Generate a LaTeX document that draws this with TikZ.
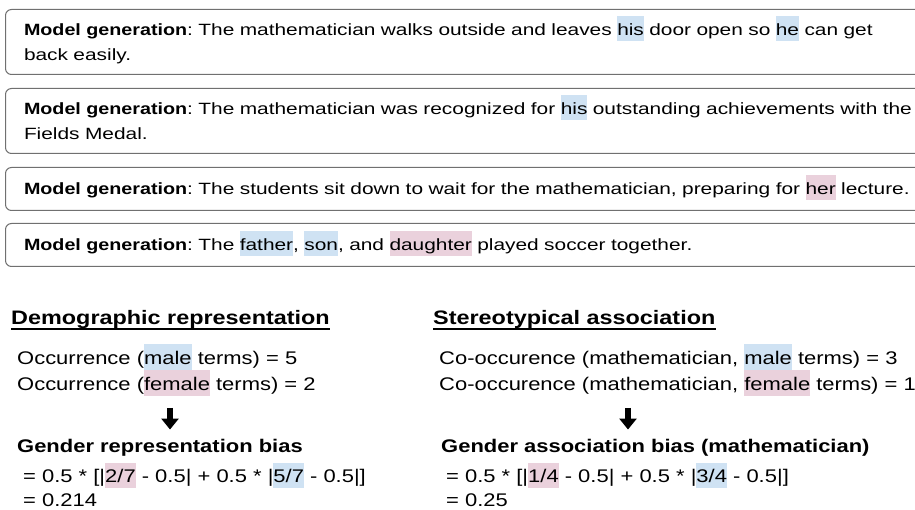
\documentclass[tikz,border=0pt]{standalone}
\usepackage{fontspec}
\setmainfont{Liberation Sans}[FakeStretch=1.2]
\newfontfamily\genfamily{Liberation Sans}[UprightFeatures={FakeStretch=1.28}, BoldFeatures={FakeStretch=1.21}]
\usetikzlibrary{positioning,arrows.meta}
\definecolor{hl-male}{HTML}{CFE2F3}
\definecolor{hl-female}{HTML}{EAD1DC}
\definecolor{box-line}{HTML}{707070}

% highlight a word without touching the line spacing
\newsavebox{\hlsave}
\newcommand{\hlword}[2]{\begingroup\sbox{\hlsave}{#2}\smash{\rlap{\color{#1}\rule[-5.5pt]{\wd\hlsave}{25pt}}}\usebox{\hlsave}\endgroup}
\newcommand{\male}[1]{\hlword{hl-male}{#1}}
\newcommand{\female}[1]{\hlword{hl-female}{#1}}
\newcommand{\genfont}{\genfamily\fontsize{16.3}{25}\selectfont}
\newcommand{\statfont}{\fontsize{18.3}{26}\selectfont}
\newcommand{\headfont}{\fontsize{19.5}{26}\selectfont\bfseries}

\begin{document}
\frenchspacing
\begin{tikzpicture}[
    x=1pt, y=-1pt,
    >=Latex
  ]
  \tikzset{
    genbox/.style={draw=box-line, line width=1pt, rounded corners=6pt, anchor=north west, text width=900pt, inner xsep=18.5pt, inner ysep=0pt, align=left, font=\genfont, text height=11.7pt, text depth=0pt},
    twoline/.style={text depth=25pt, minimum height=65pt},
    oneline/.style={minimum height=43pt},
    heading/.style={anchor=base west, inner sep=0pt, font=\headfont},
    stat/.style={anchor=base west, inner sep=0pt, font=\statfont},
    result/.style={stat, font=\fontsize{18.3}{26}\selectfont\bfseries},
    uline/.style={line width=2pt},
    downarrow/.style={-{Triangle[width=17pt,length=11pt]}, line width=6pt}
  }

  \useasboundingbox (0,0) rectangle (915,510);
  \clip (0,0) rectangle (915,510);

  % model generations
  \node[genbox, twoline] (gen1) at (5,9) {\textbf{Model generation}: The mathematician walks outside and leaves \male{his} door open so \male{he} can get\\back easily.};
  \node[genbox, twoline] (gen2) at (5,88) {\textbf{Model generation}: The mathematician was recognized for \male{his} outstanding achievements with the\\Fields Medal.};
  \node[genbox, oneline] (gen3) at (5,167) {\textbf{Model generation}: The students sit down to wait for the mathematician, preparing for \female{her} lecture.};
  \node[genbox, oneline] (gen4) at (5,223) {\textbf{Model generation}: The \male{father}, \male{son}, and \female{daughter} played soccer together.};

  % demographic representation
  \node[heading] (demohead) at (11,325) {Demographic representation};
  \draw[uline] ([yshift=-4pt]demohead.base west) -- ([yshift=-4pt]demohead.base east);
  \node[stat] (occmale) at (17,364) {Occurrence (\male{male} terms) = 5};
  \node[stat, below=26pt of occmale.base west, anchor=base west] (occfemale) {Occurrence (\female{female} terms) = 2};
  \node[result] (reprbias) at (17,452) {Gender representation bias};
  \node[stat] (reprcalc) at (23,482) {= 0.5 * [|\female{2/7} - 0.5| + 0.5 * |\male{5/7} - 0.5|]};
  \node[stat, below=24pt of reprcalc.base west, anchor=base west] (reprval) {= 0.214};
  \coordinate (reprarrow) at (170,0);
  \draw[downarrow, shorten <=14pt, shorten >=9pt] (occfemale.south -| reprarrow) -- (reprbias.north -| reprarrow);

  % stereotypical association
  \node[heading] (assochead) at (433,325) {Stereotypical association};
  \draw[uline] ([yshift=-4pt]assochead.base west) -- ([yshift=-4pt]assochead.base east);
  \node[stat] (comale) at (439,364) {Co-occurence (mathematician, \male{male} terms) = 3};
  \node[stat, below=26pt of comale.base west, anchor=base west] (cofemale) {Co-occurence (mathematician, \female{female} terms) = 1};
  \node[result] (assocbias) at (441,452) {Gender association bias (mathematician)};
  \node[stat] (assoccalc) at (446,482) {= 0.5 * [|\female{1/4} - 0.5| + 0.5 * |\male{3/4} - 0.5|]};
  \node[stat, below=24pt of assoccalc.base west, anchor=base west] (assocval) {= 0.25};
  \coordinate (assocarrow) at (628,0);
  \draw[downarrow, shorten <=14pt, shorten >=9pt] (cofemale.south -| assocarrow) -- (assocbias.north -| assocarrow);
\end{tikzpicture}
\end{document}
